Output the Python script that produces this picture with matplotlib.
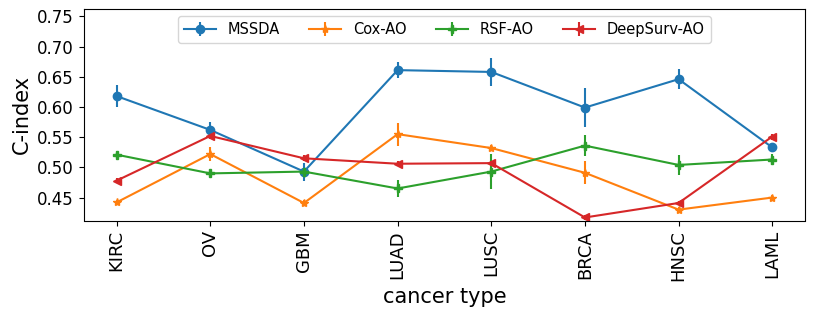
import numpy as np
import matplotlib
matplotlib.use("Agg")
import matplotlib.pyplot as plt

cancers = ["KIRC", "OV", "GBM", "LUAD", "LUSC", "BRCA", "HNSC", "LAML"]

mssda = [0.618, 0.562, 0.493, 0.661, 0.658, 0.599, 0.646, 0.533]
mssda_err = [0.018, 0.013, 0.015, 0.013, 0.023, 0.032, 0.017, 0.005]

cox = [0.442, 0.522, 0.441, 0.555, 0.532, 0.491, 0.430, 0.450]
cox_err = [0.004, 0.012, 0.005, 0.019, 0.005, 0.019, 0.004, 0.004]

rsf = [0.521, 0.490, 0.493, 0.465, 0.493, 0.536, 0.504, 0.513]
rsf_err = [0.005, 0.006, 0.006, 0.014, 0.029, 0.017, 0.016, 0.009]

deepsurv = [0.478, 0.552, 0.515, 0.506, 0.507, 0.417, 0.441, 0.551]
deepsurv_err = [0.004, 0.005, 0.005, 0.004, 0.004, 0.004, 0.004, 0.005]

x = np.arange(len(cancers))

fig, ax = plt.subplots(figsize=(8.14, 3.15), dpi=100)
ax.errorbar(x, mssda, yerr=mssda_err, marker='o', markersize=6, label='MSSDA')
ax.errorbar(x, cox, yerr=cox_err, marker='*', markersize=6, label='Cox-AO')
ax.errorbar(x, rsf, yerr=rsf_err, marker='P', markersize=6, label='RSF-AO')
ax.errorbar(x, deepsurv, yerr=deepsurv_err, marker='<', markersize=6, label='DeepSurv-AO')

ax.set_xticks(x)
ax.set_xticklabels(cancers, rotation=90, fontsize=13)
ax.tick_params(axis='y', labelsize=12)
ax.set_yticks([0.45, 0.5, 0.55, 0.6, 0.65, 0.7, 0.75])
ax.set_ylim(0.412, 0.762)
ax.set_xlim(-0.35, 7.35)
ax.set_xlabel('cancer type', fontsize=15)
ax.set_ylabel('C-index', fontsize=15)
ax.legend(loc='upper center', ncol=4, fontsize=10.5, handlelength=2.2)

plt.subplots_adjust(left=0.103, right=0.989, top=0.971, bottom=0.30)
plt.savefig('out.png', dpi=100)
